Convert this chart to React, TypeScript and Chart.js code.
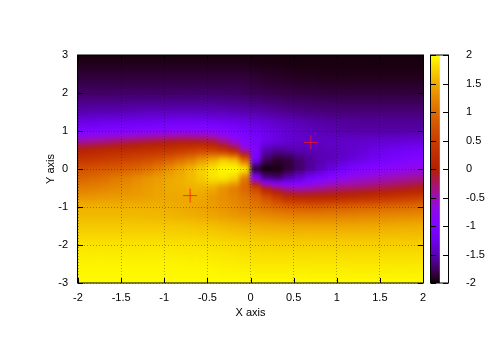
import React, { useEffect, useRef } from "react";
import { Chart, registerables } from "chart.js";

Chart.register(...registerables);

const xCenters = [-1.9375,-1.8125,-1.6875,-1.5625,-1.4375,-1.3125,-1.1875,-1.0625,-0.9375,-0.8125,-0.6875,-0.5625,-0.4375,-0.3125,-0.1875,-0.0625,0.0625,0.1875,0.3125,0.4375,0.5625,0.6875,0.8125,0.9375,1.0625,1.1875,1.3125,1.4375,1.5625,1.6875,1.8125,1.9375];
const yCenters = [3,2.75,2.5,2.25,2,1.75,1.5,1.25,1,0.75,0.5,0.25,0,-0.25,-0.5,-0.75,-1,-1.25,-1.5,-1.75,-2,-2.25,-2.5,-2.75,-3];
const markerX = [0.7, -0.7];
const markerY = [0.7, -0.7];
const colorbarRange = [-2, 2];

const zA = [-1.97,-1.97,-1.97,-1.97,-1.97,-1.97,-1.97,-1.97,-1.97,-1.97,-1.97,-1.97,-1.97,-1.97,-1.97,-1.97,-1.97,-1.97,-1.97,-1.97,-1.97,-1.97,-1.97,-1.97,-1.97,-1.97,-1.97,-1.97,-1.97,-1.97,-1.97,-1.97];
const zB = [-1.93,-1.93,-1.93,-1.93,-1.93,-1.93,-1.93,-1.93,-1.93,-1.93,-1.93,-1.93,-1.93,-1.93,-1.93,-1.93,-1.94,-1.95,-1.95,-1.96,-1.96,-1.96,-1.96,-1.96,-1.96,-1.96,-1.96,-1.96,-1.96,-1.96,-1.96,-1.96];
const zC = [-1.87,-1.87,-1.87,-1.87,-1.87,-1.87,-1.87,-1.87,-1.87,-1.87,-1.87,-1.87,-1.87,-1.87,-1.87,-1.87,-1.89,-1.9,-1.91,-1.92,-1.93,-1.93,-1.94,-1.94,-1.94,-1.94,-1.94,-1.94,-1.94,-1.94,-1.94,-1.94];
const zD = [-1.81,-1.81,-1.81,-1.81,-1.81,-1.81,-1.81,-1.81,-1.81,-1.81,-1.81,-1.81,-1.81,-1.81,-1.81,-1.82,-1.84,-1.86,-1.87,-1.88,-1.89,-1.89,-1.9,-1.9,-1.9,-1.9,-1.9,-1.9,-1.9,-1.9,-1.9,-1.9];
const zE = [-1.74,-1.74,-1.74,-1.74,-1.74,-1.74,-1.74,-1.74,-1.74,-1.74,-1.74,-1.74,-1.74,-1.74,-1.75,-1.76,-1.78,-1.8,-1.81,-1.82,-1.83,-1.84,-1.84,-1.85,-1.85,-1.85,-1.85,-1.85,-1.85,-1.85,-1.85,-1.85];
const zF = [-1.63,-1.63,-1.63,-1.63,-1.62,-1.62,-1.62,-1.62,-1.62,-1.62,-1.62,-1.62,-1.62,-1.63,-1.64,-1.65,-1.67,-1.69,-1.71,-1.73,-1.74,-1.75,-1.76,-1.76,-1.77,-1.77,-1.77,-1.77,-1.77,-1.77,-1.77,-1.77];
const zG = [-1.52,-1.51,-1.5,-1.5,-1.49,-1.48,-1.47,-1.47,-1.47,-1.47,-1.47,-1.47,-1.48,-1.49,-1.5,-1.52,-1.54,-1.57,-1.6,-1.63,-1.65,-1.67,-1.68,-1.69,-1.69,-1.69,-1.69,-1.69,-1.69,-1.69,-1.69,-1.69];
const zH = [-1.3,-1.29,-1.28,-1.27,-1.26,-1.25,-1.23,-1.22,-1.21,-1.2,-1.2,-1.2,-1.22,-1.25,-1.28,-1.31,-1.35,-1.39,-1.43,-1.47,-1.5,-1.53,-1.55,-1.57,-1.58,-1.59,-1.6,-1.6,-1.6,-1.6,-1.6,-1.6];
const zI = [-1.05,-1.02,-1,-0.98,-0.96,-0.94,-0.92,-0.89,-0.87,-0.85,-0.85,-0.86,-0.89,-0.95,-1.03,-1.12,-1.2,-1.28,-1.34,-1.4,-1.44,-1.47,-1.5,-1.52,-1.54,-1.55,-1.55,-1.55,-1.55,-1.55,-1.55,-1.55];
const zJ = [-0.5,-0.45,-0.4,-0.35,-0.3,-0.25,-0.2,-0.17,-0.14,-0.12,-0.12,-0.14,-0.22,-0.45,-0.72,-0.95,-1.1,-1.22,-1.3,-1.37,-1.41,-1.43,-1.44,-1.43,-1.43,-1.42,-1.41,-1.4,-1.39,-1.38,-1.36,-1.35];
const zK = [0.05,0.1,0.14,0.18,0.22,0.25,0.28,0.31,0.35,0.42,0.5,0.55,0.5,0.3,0.02,-0.6,-1.02,-1.5,-1.6,-1.55,-1.5,-1.5,-1.49,-1.47,-1.44,-1.4,-1.35,-1.3,-1.26,-1.22,-1.18,-1.15];
const zL = [0.38,0.42,0.47,0.52,0.57,0.62,0.68,0.76,0.88,1.02,1.15,1.35,1.5,1.7,1.6,0.9,-1.1,-1.75,-1.88,-1.85,-1.72,-1.6,-1.52,-1.48,-1.42,-1.35,-1.28,-1.2,-1.13,-1.06,-1.0,-0.95];
const zM = [0.72,0.76,0.8,0.85,0.9,0.96,1.05,1.18,1.32,1.47,1.6,1.74,1.87,1.97,2,1.95,-1.95,-2,-1.97,-1.87,-1.74,-1.6,-1.47,-1.32,-1.18,-1.05,-0.96,-0.9,-0.85,-0.8,-0.76,-0.72];
const zN = [0.95,1.0,1.06,1.13,1.2,1.28,1.35,1.42,1.48,1.52,1.6,1.72,1.85,1.88,1.75,1.1,-0.9,-1.6,-1.7,-1.5,-1.35,-1.15,-1.02,-0.88,-0.76,-0.68,-0.62,-0.57,-0.52,-0.47,-0.42,-0.38];
const zO = [1.15,1.18,1.22,1.26,1.3,1.35,1.4,1.44,1.5,1.52,1.55,1.55,1.5,1.32,1.15,0.95,0.6,-0.02,-0.3,-0.5,-0.55,-0.5,-0.42,-0.35,-0.31,-0.28,-0.25,-0.22,-0.18,-0.14,-0.1,-0.05];
const zP = [1.35,1.36,1.38,1.39,1.4,1.41,1.42,1.45,1.48,1.48,1.48,1.46,1.37,1.3,1.22,1.1,0.95,0.72,0.45,0.22,0.14,0.12,0.12,0.14,0.17,0.2,0.25,0.3,0.35,0.4,0.45,0.5];
const zQ = [1.55,1.55,1.55,1.55,1.55,1.55,1.55,1.54,1.52,1.5,1.47,1.44,1.4,1.34,1.28,1.2,1.12,1.03,0.95,0.89,0.86,0.85,0.85,0.87,0.89,0.92,0.94,0.96,0.98,1.0,1.02,1.05];
const zR = [1.6,1.6,1.6,1.6,1.6,1.6,1.59,1.58,1.57,1.55,1.53,1.5,1.47,1.43,1.39,1.35,1.31,1.28,1.25,1.22,1.2,1.2,1.2,1.21,1.22,1.23,1.25,1.26,1.27,1.28,1.29,1.3];
const zS = [1.69,1.69,1.69,1.69,1.69,1.69,1.69,1.69,1.69,1.68,1.67,1.65,1.63,1.6,1.57,1.54,1.52,1.5,1.49,1.48,1.47,1.47,1.47,1.47,1.47,1.47,1.48,1.49,1.5,1.5,1.51,1.52];
const zT = [1.77,1.77,1.77,1.77,1.77,1.77,1.77,1.77,1.76,1.76,1.75,1.74,1.73,1.71,1.69,1.67,1.65,1.64,1.63,1.62,1.62,1.62,1.62,1.62,1.62,1.62,1.62,1.62,1.63,1.63,1.63,1.63];
const zU = [1.85,1.85,1.85,1.85,1.85,1.85,1.85,1.85,1.85,1.84,1.84,1.83,1.82,1.81,1.8,1.78,1.76,1.75,1.74,1.74,1.74,1.74,1.74,1.74,1.74,1.74,1.74,1.74,1.74,1.74,1.74,1.74];
const zV = [1.9,1.9,1.9,1.9,1.9,1.9,1.9,1.9,1.9,1.9,1.89,1.89,1.88,1.87,1.86,1.84,1.82,1.81,1.81,1.81,1.81,1.81,1.81,1.81,1.81,1.81,1.81,1.81,1.81,1.81,1.81,1.81];
const zW = [1.94,1.94,1.94,1.94,1.94,1.94,1.94,1.94,1.94,1.94,1.93,1.93,1.92,1.91,1.9,1.89,1.87,1.87,1.87,1.87,1.87,1.87,1.87,1.87,1.87,1.87,1.87,1.87,1.87,1.87,1.87,1.87];
const zX = [1.96,1.96,1.96,1.96,1.96,1.96,1.96,1.96,1.96,1.96,1.96,1.96,1.96,1.95,1.95,1.94,1.93,1.93,1.93,1.93,1.93,1.93,1.93,1.93,1.93,1.93,1.93,1.93,1.93,1.93,1.93,1.93];
const zY = [1.98,1.98,1.98,1.98,1.98,1.98,1.98,1.98,1.98,1.98,1.98,1.98,1.98,1.98,1.98,1.98,1.98,1.98,1.98,1.98,1.98,1.98,1.98,1.98,1.98,1.98,1.98,1.98,1.98,1.98,1.98,1.98];

const zRows = [zA,zB,zC,zD,zE,zF,zG,zH,zI,zJ,zK,zL,zM,zN,zO,zP,zQ,zR,zS,zT,zU,zV,zW,zX,zY];

const FONT = { family: "'Liberation Sans', Arial, sans-serif", size: 11 };
const CELL_H = 0.125;
const plainTick = (v: any) => String(Number(v));

// gnuplot palette rgbformulae 7,5,15
function palette(z: number) {
  const t = Math.min(1, Math.max(0, (z + 2) / 4));
  const r = Math.sqrt(t);
  const g = t * t * t;
  const b = Math.max(0, Math.sin(2 * Math.PI * t));
  return `rgb(${Math.round(r * 255)},${Math.round(g * 255)},${Math.round(b * 255)})`;
}

function cellFill(c: any, row: number) {
  const col = c.dataIndex;
  if (c.type !== "data" || col === undefined) return palette(0);
  const z = zRows[row][col];
  const above = row > 0 ? zRows[row - 1][col] : z;
  const below = row < zRows.length - 1 ? zRows[row + 1][col] : z;
  const ys = c.chart.scales.y;
  const top = ys.getPixelForValue(yCenters[row] + CELL_H);
  const bot = ys.getPixelForValue(yCenters[row] - CELL_H);
  if (!Number.isFinite(top) || !Number.isFinite(bot)) return palette(z);
  const g = c.chart.ctx.createLinearGradient(0, top, 0, bot);
  const zt = (z + above) / 2;
  const zb = (z + below) / 2;
  [0, 0.25, 0.5].forEach((s) => g.addColorStop(s, palette(zt + (z - zt) * s * 2)));
  [0.75, 1].forEach((s) => g.addColorStop(s, palette(z + (zb - z) * (s - 0.5) * 2)));
  return g;
}

const smoothCells = {
  id: "smoothCells",
  beforeDatasetDraw(chart: any, args: any) {
    if (args.index !== 0) return;
    const { left, top, width, height } = chart.chartArea;
    const ctx = chart.ctx;
    ctx.save();
    ctx.beginPath();
    ctx.rect(left, top, width, height);
    ctx.clip();
    ctx.filter = "blur(2px)";
    ctx.drawImage(chart.canvas, left, top, width, height, left, top, width, height);
    ctx.restore();
  },
};

function frameAndTicks(tickLen: number, axes: string[]) {
  return {
    id: "frameAndTicks",
    afterDraw(chart: any) {
      const { left, top, right, bottom } = chart.chartArea;
      const ctx = chart.ctx;
      ctx.save();
      ctx.strokeStyle = "#000";
      ctx.lineWidth = 1;
      ctx.beginPath();
      axes.forEach((id) => {
        const s = chart.scales[id];
        s.ticks.forEach((_: any, i: number) => {
          const p = Math.round(s.getPixelForTick(i)) + 0.5;
          if (id === "x") {
            ctx.moveTo(p, bottom); ctx.lineTo(p, bottom - tickLen);
            ctx.moveTo(p, top); ctx.lineTo(p, top + tickLen);
          } else {
            ctx.moveTo(left, p); ctx.lineTo(left + tickLen, p);
            ctx.moveTo(right, p); ctx.lineTo(right - tickLen, p);
          }
        });
      });
      ctx.stroke();
      ctx.strokeRect(left - 0.5, top, right - left + 1, bottom - top);
      ctx.restore();
    },
  };
}

export default function App() {
  const mainRef = useRef<HTMLCanvasElement>(null);
  const barRef = useRef<HTMLCanvasElement>(null);

  useEffect(() => {
    const gridOpts = { display: true, color: "rgba(0,0,0,0.32)", lineWidth: 1, z: 1, drawTicks: false, offset: false };
    const main = new Chart(mainRef.current!, {
      type: "bar",
      data: {
        datasets: [
          {
            type: "scatter",
            data: markerX.map((x, i) => ({ x, y: markerY[i] })),
            pointStyle: "cross",
            pointRadius: 7,
            pointBorderWidth: 1,
            pointBorderColor: "rgba(255,20,20,0.8)",
            pointBackgroundColor: "transparent",
          } as any,
          ...zRows.map((vals, row) => ({
            type: "bar",
            grouped: false,
            barPercentage: 1,
            categoryPercentage: 1,
            borderWidth: 0,
            data: vals.map((_, i) => ({ x: xCenters[i], y: [yCenters[row] - CELL_H, yCenters[row] + CELL_H] })),
            backgroundColor: (c: any) => cellFill(c, row),
          } as any)),
        ],
      },
      options: {
        animation: false,
        responsive: false,
        events: [],
        layout: { padding: { left: 44, top: 55, right: 77, bottom: 30 } },
        plugins: { legend: { display: false }, tooltip: { enabled: false } },
        scales: {
          x: {
            type: "linear", min: -2, max: 2, offset: false,
            grid: { ...gridOpts } as any,
            border: { display: false, dash: [1, 2] },
            ticks: { stepSize: 0.5, color: "#000", font: FONT, padding: 8, autoSkip: false, maxRotation: 0, callback: plainTick },
            title: { display: true, text: "X axis", color: "#000", font: FONT, padding: 0 },
            afterFit: (s: any) => { s.height = 37; },
          },
          y: {
            type: "linear", min: -3, max: 3,
            grid: { ...gridOpts } as any,
            border: { display: false, dash: [1, 2] },
            ticks: { stepSize: 1, color: "#000", font: FONT, padding: 10, autoSkip: false, callback: plainTick },
            title: { display: true, text: "Y axis", color: "#000", font: FONT, padding: 0 },
            afterFit: (s: any) => { s.width = 34; },
          },
        },
      } as any,
      plugins: [smoothCells, frameAndTicks(5, ["x", "y"])],
    });

    const bar = new Chart(barRef.current!, {
      type: "bar",
      data: {
        labels: ["z"],
        datasets: [
          {
            data: [[colorbarRange[0], colorbarRange[1]]],
            barPercentage: 1,
            categoryPercentage: 1,
            borderWidth: 0,
            backgroundColor: (c: any) => {
              const a = c.chart.chartArea;
              if (!a || !Number.isFinite(a.top) || !Number.isFinite(a.bottom)) return palette(0);
              const g = c.chart.ctx.createLinearGradient(0, a.bottom, 0, a.top);
              for (let i = 0; i <= 64; i++) g.addColorStop(i / 64, palette(-2 + (4 * i) / 64));
              return g;
            },
          } as any,
        ],
      },
      options: {
        animation: false,
        responsive: false,
        events: [],
        layout: { padding: { left: 431, top: 55, right: 0, bottom: 67 } },
        plugins: { legend: { display: false }, tooltip: { enabled: false } },
        scales: {
          x: { display: false, offset: false },
          y: {
            position: "right", min: -2, max: 2,
            grid: { display: false },
            border: { display: false },
            ticks: { stepSize: 0.5, color: "#000", font: FONT, padding: 10, autoSkip: false, callback: plainTick },
            afterFit: (s: any) => { s.width = 52; },
          },
        },
      } as any,
      plugins: [frameAndTicks(5, ["y"])],
    });

    return () => { main.destroy(); bar.destroy(); };
  }, []);

  const canvasStyle: React.CSSProperties = { position: "absolute", left: 0, top: 0, width: 500, height: 350 };
  return (
    <div style={{ position: "absolute", left: 0, top: 0, width: 500, height: 350, background: "#fff" }}>
      <canvas ref={mainRef} width={500} height={350} style={canvasStyle} />
      <canvas ref={barRef} width={500} height={350} style={canvasStyle} />
    </div>
  );
}
